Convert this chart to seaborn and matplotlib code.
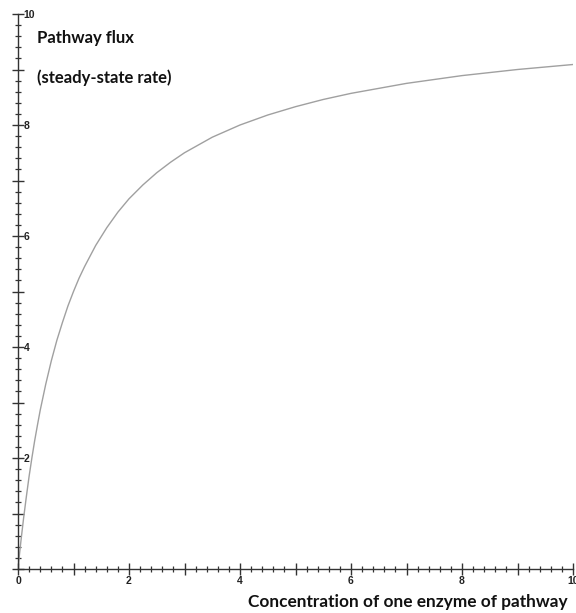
import numpy as np
import pandas as pd
import matplotlib
matplotlib.use("Agg")
import matplotlib.pyplot as plt
from matplotlib.ticker import MultipleLocator, FuncFormatter
import seaborn as sns

# values
enzyme_conc = [0, 0.02, 0.05, 0.1, 0.15, 0.2, 0.25, 0.3, 0.35, 0.4, 0.5, 0.6, 0.7,
               0.8, 0.9, 1.0, 1.1, 1.2, 1.4, 1.6, 1.8, 2.0, 2.25, 2.5, 2.75, 3.0,
               3.5, 4.0, 4.5, 5.0, 5.5, 6.0, 7.0, 8.0, 9.0, 10.0]
pathway_flux = [0, 0.2, 0.48, 0.91, 1.3, 1.67, 2.0, 2.31, 2.59, 2.86, 3.33, 3.75, 4.12,
                4.44, 4.74, 5.0, 5.24, 5.45, 5.83, 6.15, 6.43, 6.67, 6.92, 7.14, 7.33, 7.5,
                7.78, 8.0, 8.18, 8.33, 8.46, 8.57, 8.75, 8.89, 9.0, 9.09]

title_lines = ["Pathway flux", "(steady-state rate)"]
x_title = "Concentration of one enzyme of pathway"

sns.set_theme(style="ticks")
plt.rcParams["font.family"] = ["Lato", "DejaVu Sans"]

df = pd.DataFrame({"conc": enzyme_conc, "flux": pathway_flux})

fig = plt.figure(figsize=(5.76, 6.13), dpi=100)
ax = fig.add_axes([18 / 576, 1 - 569 / 613, 555 / 576, 555 / 613])

sns.lineplot(data=df, x="conc", y="flux", ax=ax, color="#a0a0a0", linewidth=1.0)

ax.set_xlim(0, 10)
ax.set_ylim(0, 10)
ax.set_xlabel("")
ax.set_ylabel("")
sns.despine(ax=ax)
for side in ["left", "bottom"]:
    ax.spines[side].set_color("#333333")
    ax.spines[side].set_linewidth(1.0)

for axis in [ax.xaxis, ax.yaxis]:
    axis.set_major_locator(MultipleLocator(1))
    axis.set_minor_locator(MultipleLocator(0.2))
ax.xaxis.set_major_formatter(FuncFormatter(
    lambda v, p: f"{int(round(v))}" if round(v) % 2 == 0 else ""))
ax.yaxis.set_major_formatter(FuncFormatter(
    lambda v, p: f"{int(round(v))}" if round(v) % 2 == 0 and round(v) > 0 else ""))

ax.tick_params(which="major", direction="inout", length=6, width=1.0, color="#333333",
               labelsize=7.5, labelcolor="#222222")
ax.tick_params(which="minor", direction="inout", length=4.5, width=0.9, color="#333333")
ax.tick_params(axis="x", which="major", pad=2)
ax.tick_params(axis="y", which="major", pad=-7)

# even ticks are a little longer
for t in ax.xaxis.get_major_ticks() + ax.yaxis.get_major_ticks():
    if round(t.get_loc()) % 2 == 0:
        t.tick1line.set_markersize(8)

for lbl in ax.get_xticklabels() + ax.get_yticklabels():
    lbl.set_fontfamily(["Liberation Sans", "DejaVu Sans"])
    lbl.set_fontweight("bold")
for lbl in ax.get_yticklabels():
    lbl.set_horizontalalignment("left")

fig.text(37 / 576, 1 - 38 / 613, title_lines[0], fontsize=12, fontweight="bold",
         va="center", ha="left", color="#111111")
fig.text(37 / 576, 1 - 78 / 613, title_lines[1], fontsize=12, fontweight="bold",
         va="center", ha="left", color="#111111")
fig.text(568 / 576, 1 - 602 / 613, x_title, fontsize=12.4, fontweight="bold",
         va="center", ha="right", color="#111111")

fig.savefig("out.png", dpi=100)
